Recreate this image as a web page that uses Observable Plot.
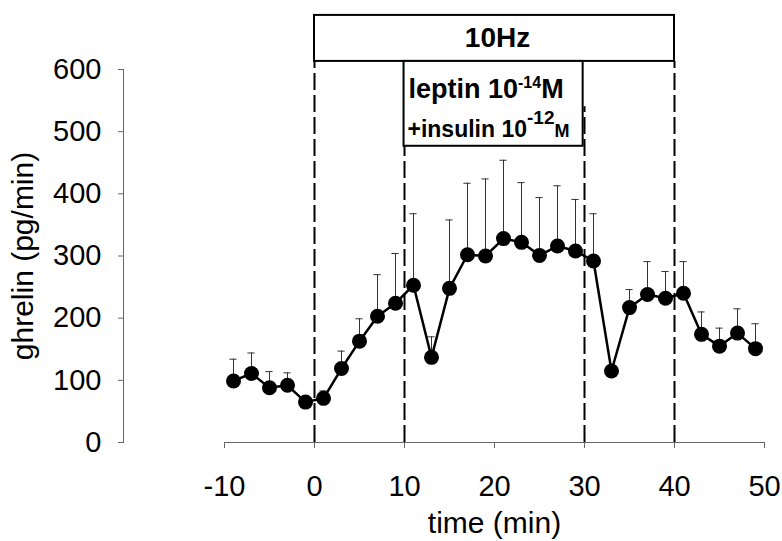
<!DOCTYPE html>
<html><head><meta charset="utf-8">
<script src="https://cdn.jsdelivr.net/npm/d3@7"></script>
<script src="https://cdn.jsdelivr.net/npm/@observablehq/plot@0.6"></script>
<style>body{margin:0;background:#fff} svg{display:block}</style>
</head><body><div id="chart"></div>
<script>
const xTicks = [-10, 0, 10, 20, 30, 40, 50];
const yTicks = [0, 100, 200, 300, 400, 500, 600];
const time = [-9, -7, -5, -3, -1, 1, 3, 5, 7, 9, 11, 13, 15, 17, 19, 21, 23, 25, 27, 29, 31, 33, 35, 37, 39, 41, 43, 45, 47, 49];
const ghrelin = [99, 111, 88, 92, 65, 71, 119, 163, 203, 224, 253, 137, 248, 302, 300, 328, 322, 301, 316, 308, 292, 115, 217, 238, 232, 240, 174, 155, 176, 151];
const ghrelinUpper = [134, 144, 114, 112, 74, 83, 147, 199, 270, 304, 368, 170, 358, 417, 424, 454, 418, 394, 413, 391, 368, 124, 246, 291, 275, 291, 210, 184, 215, 191];
const eventTimes = [0, 10, 30, 40];
const stimLabel = "10Hz";
const stimStart = 0, stimEnd = 40;
const hormoneLine1 = ["leptin 10", "-14", "M"];
const hormoneLine2 = ["+insulin 10", "-12", "M"];
const hormoneStart = 10, hormoneEnd = 30;
const xTitle = "time (min)";
const yTitle = "ghrelin (pg/min)";

const data = time.map((t, i) => ({t, v: ghrelin[i], hi: ghrelinUpper[i]}));

// layout (in y data units above the plotted range)
const stimBoxY = [613, 687];
const hormoneBoxY = [476.5, 613];
const dashTop = {0: 613, 10: 476.5, 30: 540, 40: 613};

const plot = Plot.plot({
  width: 782, height: 541,
  marginLeft: 123, marginRight: 18, marginTop: 69, marginBottom: 99,
  style: {fontFamily: "'Liberation Sans', Arial, Helvetica, sans-serif", background: "white", overflow: "visible", color: "black"},
  x: {domain: [-10, 50], range: [224, 764]},
  y: {domain: [0, 600]},
  marks: [
    Plot.ruleX(eventTimes, {x: d => d, y1: 0, y2: d => dashTop[d], stroke: "black", strokeWidth: 2, strokeDasharray: "17,5"}),
    Plot.rect([0], {x1: stimStart, x2: stimEnd, y1: stimBoxY[0], y2: stimBoxY[1], fill: "white", stroke: "black", strokeWidth: 2}),
    Plot.rect([0], {x1: hormoneStart - 0.05, x2: hormoneEnd - 0.15, y1: hormoneBoxY[0], y2: hormoneBoxY[1], fill: "white", stroke: "black", strokeWidth: 2}),
    Plot.text([stimLabel], {x: (stimStart + stimEnd) / 2, y: (stimBoxY[0] + stimBoxY[1]) / 2, dx: 3, fontWeight: "bold", fontSize: 28, fill: "black"}),
    Plot.text([hormoneLine1.join("")], {x: hormoneStart, y: 554, dx: 4, textAnchor: "start", lineAnchor: "bottom", fontWeight: "bold", fontSize: 27, fill: "black"}),
    Plot.text([hormoneLine2.join("")], {x: hormoneStart, y: 491, dx: 3, textAnchor: "start", lineAnchor: "bottom", fontWeight: "bold", fontSize: 23, fill: "black"}),
    Plot.ruleX(data, {x: "t", y1: "v", y2: "hi", stroke: "#333", strokeWidth: 1}),
    Plot.ruleY(data, {y: "hi", x1: d => d.t - 0.4, x2: d => d.t + 0.4, stroke: "#333", strokeWidth: 1}),
    Plot.line(data, {x: "t", y: "v", stroke: "black", strokeWidth: 2.5}),
    Plot.dot(data, {x: "t", y: "v", r: 7.5, fill: "black"}),
    Plot.ruleY([0], {x1: xTicks[0], x2: xTicks[xTicks.length - 1], stroke: "#666", strokeWidth: 1}),
    Plot.frame({anchor: "left", stroke: "#666", strokeWidth: 1}),
    Plot.axisX(xTicks, {tickSize: 6, tickPadding: 27, tickFormat: d => String(d), fontSize: 29, stroke: "#666", label: null}),
    Plot.axisY(yTicks, {tickSize: 5, tickPadding: 17, tickFormat: d => String(d), fontSize: 29, stroke: "#666", label: null}),
    Plot.text([xTitle], {x: (xTicks[0] + xTicks[xTicks.length - 1]) / 2, frameAnchor: "bottom", dy: 69, lineAnchor: "top", fontSize: 30, fill: "black"}),
    Plot.text([yTitle], {frameAnchor: "left", textAnchor: "middle", rotate: -90, dx: -100, fontSize: 30, fill: "black"})
  ]
});

function richText(full, parts, sizes, shifts) {
  const t = d3.select(plot).selectAll("text").filter(function() { return this.textContent === full; });
  t.text(null);
  let prev = 0;
  parts.forEach((p, i) => {
    t.append("tspan").attr("font-size", sizes[i]).attr("dy", shifts[i] - prev).text(p);
    prev = shifts[i];
  });
}
richText(hormoneLine1.join(""), hormoneLine1, [27, 16, 27], [0, -10, 0]);
richText(hormoneLine2.join(""), hormoneLine2, [23, 19, 18], [0, -13, 0]);

document.getElementById("chart").appendChild(plot);
</script>
</body></html>
